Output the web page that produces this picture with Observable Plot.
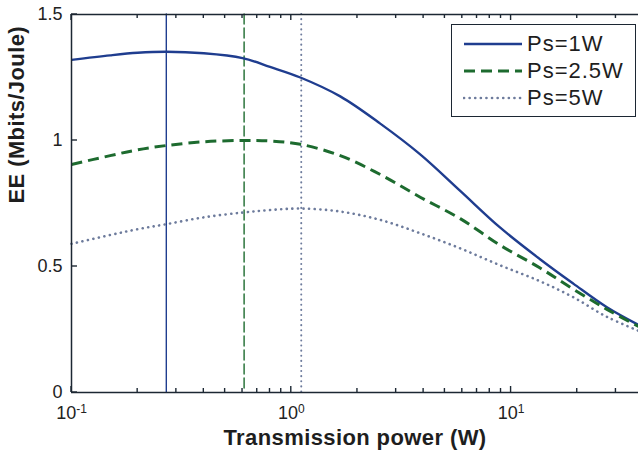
<!DOCTYPE html>
<html><head><meta charset="utf-8">
<script src="https://cdn.jsdelivr.net/npm/d3@7"></script>
<script src="https://cdn.jsdelivr.net/npm/@observablehq/plot@0.6"></script>
<style>
body{margin:0;background:#fff;}
#wrap{position:relative;width:638px;height:459px;font-family:"Liberation Sans",Arial,sans-serif;}
#legend{position:absolute;left:451px;top:24px;width:185px;height:93px;border:1.5px solid #1c2733;background:#fff;box-sizing:border-box;}
.row{position:absolute;left:0;height:26px;line-height:26px;font-size:22px;letter-spacing:1px;color:#1e1e1e;white-space:nowrap;}
.row svg{position:absolute;left:11px;top:0;}
.row span{position:absolute;left:75px;top:0;}
</style></head><body><div id="wrap"></div>
<script>
// Transmission power (W)
const power = [0.1, 0.15, 0.2, 0.27, 0.4, 0.6, 0.8, 1.1, 1.67, 2.54, 3.86, 5.87, 8.9, 13.5, 19.2, 27.3, 38];
// EE (Mbits/Joule) per source power
const eePs1  = [1.320, 1.338, 1.348, 1.352, 1.346, 1.327, 1.292, 1.250, 1.175, 1.067, 0.945, 0.800, 0.655, 0.530, 0.432, 0.338, 0.268];
const eePs25 = [0.905, 0.940, 0.963, 0.980, 0.995, 1.000, 0.998, 0.985, 0.940, 0.865, 0.775, 0.690, 0.585, 0.495, 0.410, 0.330, 0.262];
const eePs5  = [0.590, 0.625, 0.648, 0.668, 0.695, 0.714, 0.724, 0.730, 0.718, 0.685, 0.632, 0.572, 0.505, 0.442, 0.378, 0.300, 0.245];
const seriesNames = ["Ps=1W", "Ps=2.5W", "Ps=5W"];
const optimalPower = [0.27, 0.61, 1.11];
const xTicks = [0.1, 1, 10];
const xTickExponents = ["-1", "0", "1"];
const xMinorTicks = [0.2, 0.3, 0.4, 0.5, 0.6, 0.7, 0.8, 0.9, 2, 3, 4, 5, 6, 7, 8, 9, 20, 30];
const yTicks = [0, 0.5, 1, 1.5];
const xLabel = "Transmission power (W)";
const yLabel = "EE (Mbits/Joule)";

const colors = ["#1f3d8f", "#1d6b2f", "#6d7b9c"];
const dashes = [null, "11,6", "0.1,5.5"];
const widths = [2.4, 3, 2.6];
const vDashes = [null, "10,4", "0.1,5"];
const vWidths = [1.4, 1.4, 2];
const axisColor = "#1c2733";

const W = 638, H = 459, mL = 71, mT = 14, mB = 67, mR = 0;

const allSeries = [eePs1, eePs25, eePs5];
const rows = [];
allSeries.forEach((vals, s) => vals.forEach((v, i) => rows.push({power: power[i], ee: v, series: seriesNames[s]})));
const optRows = optimalPower.map((p, i) => ({power: p, series: seriesNames[i]}));

const xDomain = [0.1, 38];
const yDomain = [0, 1.5];

const marks = [];
seriesNames.forEach((name, s) => {
  marks.push(Plot.ruleX(optRows.filter(d => d.series === name), {x: "power", stroke: colors[s], strokeWidth: vWidths[s], strokeDasharray: vDashes[s], strokeLinecap: "round"}));
});
seriesNames.forEach((name, s) => {
  marks.push(Plot.line(rows.filter(d => d.series === name), {x: "power", y: "ee", stroke: colors[s], strokeWidth: widths[s], strokeDasharray: dashes[s], strokeLinecap: s === 2 ? "round" : "butt", curve: "catmull-rom"}));
});
// axes frame (left, bottom, top)
marks.push(Plot.ruleY([yDomain[0], yDomain[1]], {stroke: axisColor, strokeWidth: 1.5}));
marks.push(Plot.ruleX([xDomain[0]], {stroke: axisColor, strokeWidth: 1.5}));
// tick labels
marks.push(Plot.axisX(xTicks, {tickSize: 0, tickPadding: 14, tickFormat: () => "10", label: null, fontSize: 18, fill: "#222"}));
marks.push(Plot.axisY(yTicks, {tickSize: 0, tickPadding: 9, tickFormat: d => String(d), label: null, fontSize: 18, fill: "#222"}));
// axis titles
marks.push(Plot.text([xLabel], {frameAnchor: "bottom", dy: 52, text: d => d, fontSize: 22, fontWeight: "bold", fill: "#1e1e1e"}));
marks.push(Plot.text([yLabel], {frameAnchor: "left", dx: -55, rotate: -90, text: d => d, fontSize: 22, fontWeight: "bold", fill: "#1e1e1e"}));

const chart = Plot.plot({
  width: W, height: H,
  marginLeft: mL, marginTop: mT, marginBottom: mB, marginRight: mR,
  x: {type: "log", domain: xDomain},
  y: {domain: yDomain},
  style: {fontFamily: "'Liberation Sans', Arial, sans-serif", background: "white", color: "#222"},
  marks
});

// inward ticks (MATLAB style), placed through Plot's own scales
const sx = chart.scale("x"), sy = chart.scale("y");
const yBottom = sy.apply(yDomain[0]), yTop = sy.apply(yDomain[1]), xLeft = sx.apply(xDomain[0]);
const tg = d3.select(chart).append("g").attr("aria-label", "inward ticks")
  .attr("stroke", axisColor).attr("stroke-width", 1.4);
const tickSpecs = [...xTicks.map(v => [v, 6]), ...xMinorTicks.map(v => [v, 4])];
tickSpecs.forEach(([v, len]) => {
  const px = sx.apply(v);
  tg.append("line").attr("x1", px).attr("x2", px).attr("y1", yBottom).attr("y2", yBottom - len);
  tg.append("line").attr("x1", px).attr("x2", px).attr("y1", yTop).attr("y2", yTop + len);
});
yTicks.forEach(v => {
  const py = sy.apply(v);
  tg.append("line").attr("x1", xLeft).attr("x2", xLeft + 6).attr("y1", py).attr("y2", py);
});

// superscript exponents on x tick labels
d3.select(chart).selectAll('g[aria-label="x-axis tick label"] text').each(function(_, i) {
  const t = d3.select(this);
  t.text("10");
  t.append("tspan").attr("dy", "-0.55em").attr("font-size", 12).text(xTickExponents[i]);
});
// axis titles: slight letter spacing to match the wide lettering
d3.select(chart).selectAll('g[aria-label="text"] text').attr("letter-spacing", "0.4px");

const wrap = document.getElementById("wrap");
wrap.appendChild(chart);

// legend
const legend = document.createElement("div");
legend.id = "legend";
const rowTops = [6, 33, 60];
seriesNames.forEach((name, s) => {
  const r = document.createElement("div");
  r.className = "row";
  r.style.top = rowTops[s] + "px";
  const svg = d3.create("svg").attr("width", 60).attr("height", 26);
  svg.append("line").attr("x1", 1).attr("x2", 59).attr("y1", 13).attr("y2", 13)
    .attr("stroke", colors[s]).attr("stroke-width", widths[s])
    .attr("stroke-dasharray", dashes[s]).attr("stroke-linecap", s === 2 ? "round" : "butt");
  r.appendChild(svg.node());
  const sp = document.createElement("span");
  sp.textContent = name;
  r.appendChild(sp);
  legend.appendChild(r);
});
wrap.appendChild(legend);
</script>
</body></html>
